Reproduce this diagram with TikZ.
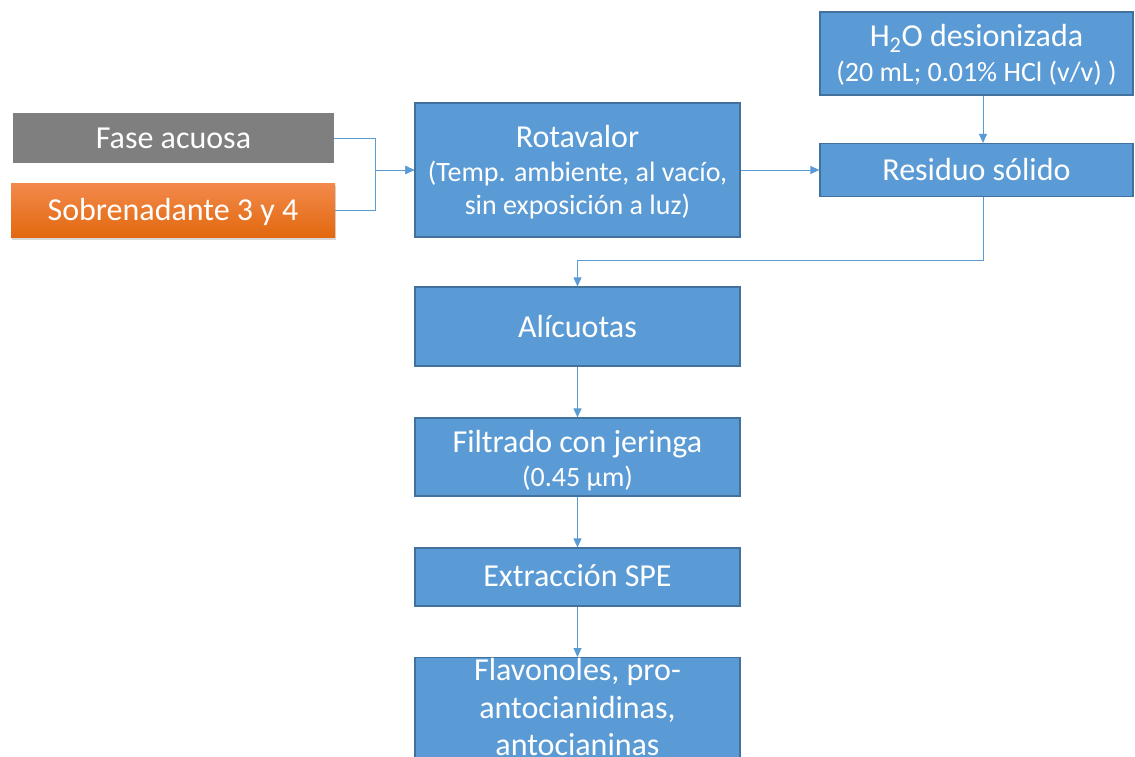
\documentclass[tikz,border=0pt]{standalone}
\usepackage{fontspec}
\setmainfont{Carlito}
\usetikzlibrary{arrows.meta,shadows}
\definecolor{boxblue}{HTML}{5B9BD5}
\definecolor{edgeblue}{HTML}{41719C}
\definecolor{grayfill}{HTML}{7F7F7F}
\definecolor{orangetop}{HTML}{F28A4C}
\definecolor{orangebot}{HTML}{E2680E}
\begin{document}
\begin{tikzpicture}[x=1pt,y=-1pt,
  blk/.style={draw=edgeblue, line width=1.2pt, fill=boxblue, inner sep=0pt},
  mainlbl/.style={text=white, inner sep=0pt, anchor=base, font=\fontsize{32}{38}\selectfont},
  sublbl/.style={text=white, inner sep=0pt, anchor=base, font=\fontsize{28}{34}\selectfont},
  conn/.style={draw=boxblue, line width=0.9pt, -{Triangle[length=9pt,width=8pt]}}]
\useasboundingbox (0,0) rectangle (1135,757);
\clip (0,0) rectangle (1135,757);
\fill[white] (0,0) rectangle (1135,757);

% input boxes
\node[fill=grayfill, inner sep=0pt, minimum width=321pt, minimum height=50pt] (fase) at (173.5,138) {};
\node[top color=orangetop, bottom color=orangebot, inner sep=0pt,
  minimum width=324pt, minimum height=54pt,
  drop shadow={shadow xshift=1pt, shadow yshift=-3pt, opacity=0.3}] (sobre) at (173,210) {};
\node[mainlbl] (faset) at (173.5,148.3) {Fase acuosa};
\node[mainlbl] (sobret) at (173,220) {Sobrenadante 3 y 4};

% process boxes
\node[blk, minimum width=325pt, minimum height=134pt] (rota) at (577.5,170) {};
\node[mainlbl] (rota1) at (577.5,147) {Rotavalor};
\node[sublbl] (rota2) at (577.5,182) {(Temp. ambiente, al vacío,};
\node[sublbl] (rota3) at (577.5,214) {sin exposición a luz)};

\node[blk, minimum width=313pt, minimum height=83pt] (h2o) at (976.5,53.5) {};
\node[mainlbl] (h2o1) at (976.5,46.7) {H\textsubscript{2}O desionizada};
\node[sublbl] (h2o2) at (976.5,81.7) {(20 mL; 0.01\% HCl (v/v) )};

\node[blk, minimum width=313pt, minimum height=53pt] (resid) at (976.5,170) {};
\node[mainlbl] (residt) at (976.5,180.3) {Residuo sólido};

\node[blk, minimum width=325pt, minimum height=79pt] (alic) at (577.5,326.5) {};
\node[mainlbl] (alict) at (577.5,337) {Alícuotas};

\node[blk, minimum width=325pt, minimum height=78pt] (filt) at (577.5,457) {};
\node[mainlbl] (filt1) at (577.5,452) {Filtrado con jeringa};
\node[sublbl] (filt2) at (577.5,486.7) {(0.45 µm)};

\node[blk, minimum width=325pt, minimum height=58pt] (spe) at (577.5,577) {};
\node[mainlbl] (spet) at (577.5,586.7) {Extracción SPE};

\node[blk, minimum width=325pt, minimum height=130pt, anchor=north] (flav) at (577.5,657) {};
\node[mainlbl] (flav1) at (577.5,680) {Flavonoles, pro-};
\node[mainlbl] (flav2) at (577.5,718) {antocianidinas,};
\node[mainlbl] (flav3) at (577.5,755) {antocianinas};

% connectors
\coordinate (j) at (375,170);
\coordinate (t) at (983,260);
\draw[conn] (fase.east) -| (j) -- (rota.west);
\draw[conn] (sobre.east) -| (j) -- (rota.west);
\draw[conn] (rota.east) -- (resid.west);
\draw[conn] ([xshift=6.5pt]h2o.south) -- ([xshift=6.5pt]resid.north);
\draw[conn] ([xshift=6.5pt]resid.south) -- (t) -| (alic.north);
\draw[conn] (alic.south) -- (filt.north);
\draw[conn] (filt.south) -- (spe.north);
\draw[conn] (spe.south) -- (flav.north);
\end{tikzpicture}
\end{document}
